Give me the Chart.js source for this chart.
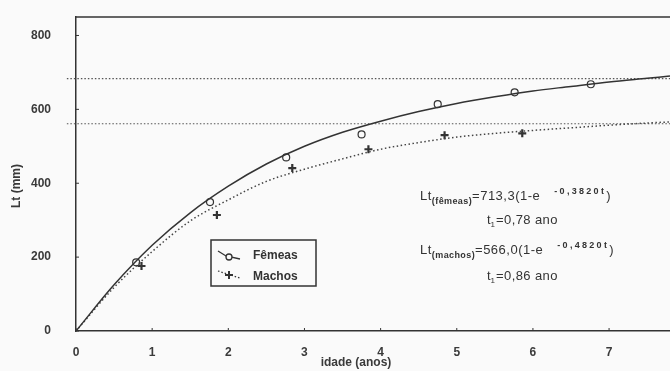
<!DOCTYPE html>
<html>
<head>
<meta charset="utf-8">
<script src="https://cdn.jsdelivr.net/npm/chart.js@4"></script>
<style>
  html, body { margin: 0; padding: 0; background: #fafafa; overflow: hidden; }
  #growth { display: block; }
</style>
</head>
<body>
<canvas id="growth" width="670" height="371"></canvas>
<script>
const ages = [0, 0.5, 1, 1.5, 2, 2.5, 3, 3.5, 4, 4.5, 5, 5.5, 6, 6.5, 7, 7.5, 7.8];
const femaleFit = [0, 125, 232, 320, 392, 452, 500, 538, 568, 594, 616, 634, 650, 662, 674, 684, 690];
const maleFit = [0, 118, 215, 298, 355, 405, 438, 466, 492, 510, 525, 535, 543, 550, 557, 563, 566];

const femaleAges = [0.79, 1.76, 2.76, 3.75, 4.75, 5.76, 6.76];
const femaleLt = [186, 349, 470, 532, 614, 646, 668];
const maleAges = [0.86, 1.85, 2.84, 3.84, 4.84, 5.86];
const maleLt = [176, 314, 441, 492, 530, 535];

const linfLines = [683, 561];
const linfRange = [-0.12, 7.8];

const xTicks = [0, 1, 2, 3, 4, 5, 6, 7];
const yTicks = [0, 200, 400, 600, 800];

const ink = '#333';
const font = '"Liberation Sans", Arial, sans-serif';

const pairs = (xs, ys) => xs.map((x, i) => ({ x: x, y: ys[i] }));

// texto com subscritos/sobrescritos
const drawRuns = (ctx, x, y, runs) => {
  runs.forEach(r => {
    ctx.font = (r.bold ? 'bold ' : '') + r.size + 'px ' + font;
    ctx.letterSpacing = (r.ls || 0) + 'px';
    ctx.fillText(r.text, x, y + (r.dy || 0));
    x += ctx.measureText(r.text).width + (r.gap || 0);
  });
  ctx.letterSpacing = '0px';
};

const extras = {
  id: 'extras',
  afterDraw(chart) {
    const ctx = chart.ctx;
    const a = chart.chartArea;
    const xs = chart.scales.x, ys = chart.scales.y;
    ctx.save();
    ctx.strokeStyle = ink;
    ctx.fillStyle = ink;

    // moldura superior
    ctx.lineWidth = 1.5;
    ctx.beginPath();
    ctx.moveTo(a.left, a.top);
    ctx.lineTo(a.right, a.top);
    ctx.stroke();

    // marcas internas
    ctx.lineWidth = 1;
    ctx.beginPath();
    xTicks.forEach(v => {
      const px = xs.getPixelForValue(v);
      ctx.moveTo(px, a.bottom);
      ctx.lineTo(px, a.bottom - 3);
    });
    yTicks.forEach(v => {
      const py = ys.getPixelForValue(v);
      ctx.moveTo(a.left, py);
      ctx.lineTo(a.left + 3, py);
    });
    ctx.stroke();

    // títulos dos eixos
    ctx.font = 'bold 12px ' + font;
    ctx.fillStyle = '#3a3a3a';
    ctx.textAlign = 'center';
    ctx.textBaseline = 'middle';
    ctx.fillText('idade (anos)', 356, 363);
    ctx.save();
    ctx.translate(17, 186);
    ctx.rotate(-Math.PI / 2);
    ctx.fillText('Lt (mm)', 0, 0);
    ctx.restore();
    ctx.fillStyle = ink;

    // legenda
    ctx.lineWidth = 1.5;
    ctx.strokeRect(211, 240, 105, 46);
    ctx.lineWidth = 1.3;
    ctx.beginPath();
    ctx.moveTo(218, 251);
    ctx.lineTo(226, 256);
    ctx.lineTo(240, 259);
    ctx.stroke();
    ctx.fillStyle = '#fafafa';
    ctx.beginPath();
    ctx.arc(229, 257, 3, 0, Math.PI * 2);
    ctx.fill();
    ctx.stroke();
    ctx.fillStyle = ink;
    ctx.setLineDash([1.5, 2]);
    ctx.beginPath();
    ctx.moveTo(218, 271);
    ctx.lineTo(240, 278);
    ctx.stroke();
    ctx.setLineDash([]);
    ctx.lineWidth = 2;
    ctx.beginPath();
    ctx.moveTo(229, 271); ctx.lineTo(229, 279);
    ctx.moveTo(225, 275); ctx.lineTo(233, 275);
    ctx.stroke();
    ctx.textAlign = 'left';
    ctx.font = 'bold 12px ' + font;
    ctx.fillText(chart.data.datasets[0].label, 253, 256);
    ctx.fillText(chart.data.datasets[1].label, 253, 277);

    // equações de von Bertalanffy
    ctx.textBaseline = 'alphabetic';
    drawRuns(ctx, 420, 200, [
      { text: 'Lt', size: 13, ls: 0.5 },
      { text: '(fêmeas)', size: 9, bold: true, dy: 4, ls: 0.4 },
      { text: '=713,3(1-e', size: 13, ls: 0.5, gap: 14 },
      { text: '-0,3820t', size: 9, bold: true, dy: -6, ls: 2.3, gap: 0 },
      { text: ')', size: 13 }
    ]);
    drawRuns(ctx, 487, 224, [
      { text: 't', size: 13 },
      { text: '1', size: 8, dy: 3, gap: 1 },
      { text: '=0,78 ano', size: 13, ls: 0.4 }
    ]);
    drawRuns(ctx, 420, 254, [
      { text: 'Lt', size: 13, ls: 0.5 },
      { text: '(machos)', size: 9, bold: true, dy: 4, ls: 0.4 },
      { text: '=566,0(1-e', size: 13, ls: 0.5, gap: 14 },
      { text: '-0,4820t', size: 9, bold: true, dy: -6, ls: 2.3, gap: 0 },
      { text: ')', size: 13 }
    ]);
    drawRuns(ctx, 487, 280, [
      { text: 't', size: 13 },
      { text: '1', size: 8, dy: 3, gap: 1 },
      { text: '=0,86 ano', size: 13, ls: 0.4 }
    ]);
    ctx.restore();
  }
};

new Chart(document.getElementById('growth'), {
  type: 'scatter',
  data: {
    datasets: [
      {
        label: 'Fêmeas',
        data: pairs(ages, femaleFit),
        showLine: true,
        borderColor: ink,
        borderWidth: 1.5,
        pointRadius: 0,
        cubicInterpolationMode: 'monotone'
      },
      {
        label: 'Machos',
        data: pairs(ages, maleFit),
        showLine: true,
        borderColor: '#444',
        borderWidth: 1.5,
        borderDash: [1.5, 2.5],
        pointRadius: 0,
        cubicInterpolationMode: 'monotone'
      },
      {
        label: 'Fêmeas obs',
        data: pairs(femaleAges, femaleLt),
        pointStyle: 'circle',
        pointRadius: 3.5,
        borderWidth: 1.2,
        borderColor: ink,
        backgroundColor: '#fafafa'
      },
      {
        label: 'Machos obs',
        data: pairs(maleAges, maleLt),
        pointStyle: 'cross',
        pointRadius: 4,
        borderWidth: 2.2,
        borderColor: ink
      },
      ...linfLines.map(v => ({
        label: 'Linf',
        data: pairs(linfRange, [v, v]),
        showLine: true,
        borderColor: '#555',
        borderWidth: 1.2,
        borderDash: [1.5, 2],
        pointRadius: 0,
        clip: false
      }))
    ]
  },
  options: {
    responsive: false,
    animation: false,
    layout: { autoPadding: false, padding: { top: 17, right: 0, left: 0, bottom: 0 } },
    plugins: { legend: { display: false }, tooltip: { enabled: false } },
    scales: {
      x: {
        type: 'linear',
        min: 0,
        max: 7.8,
        afterFit: s => { s.height = 40; s.paddingLeft = 0; s.paddingRight = 0; },
        afterBuildTicks: s => { s.ticks = xTicks.map(v => ({ value: v })); },
        grid: { display: false },
        border: { display: true, color: ink, width: 1.5 },
        ticks: { padding: 6, color: '#3a3a3a', font: { family: font, size: 12, weight: 'bold' } }
      },
      y: {
        min: 0,
        max: 850,
        afterFit: s => { s.width = 76; s.paddingTop = 0; s.paddingBottom = 0; },
        afterBuildTicks: s => { s.ticks = yTicks.map(v => ({ value: v })); },
        grid: { display: false },
        border: { display: true, color: ink, width: 1.5 },
        ticks: { padding: 17, color: '#3a3a3a', font: { family: font, size: 12, weight: 'bold' } }
      }
    }
  },
  plugins: [extras]
});
</script>
</body>
</html>
